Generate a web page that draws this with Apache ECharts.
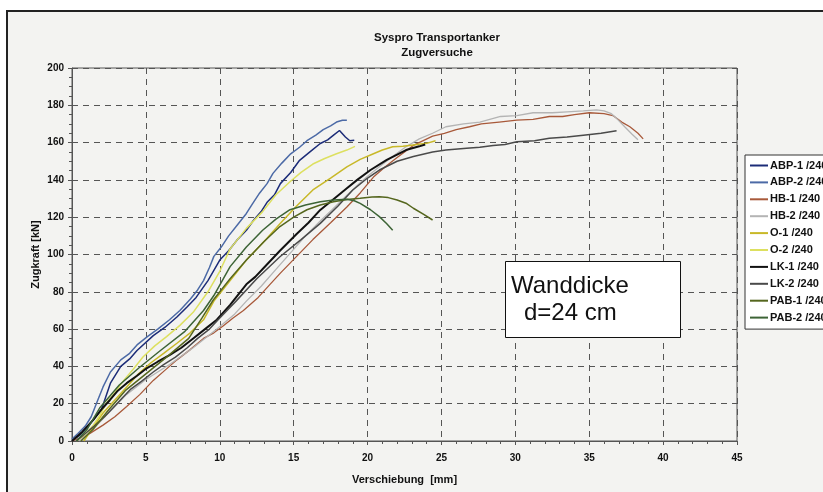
<!DOCTYPE html>
<html>
<head>
<meta charset="utf-8">
<script src="https://cdn.jsdelivr.net/npm/echarts@6/dist/echarts.min.js"></script>
<style>
  html, body { margin: 0; padding: 0; background: #fff; }
  #frame { position: absolute; left: 6px; top: 10px; width: 830px; height: 490px;
           border-top: 2px solid #222; border-left: 2px solid #222; background: #f3f3f1; }
  #main { position: absolute; left: 0; top: 0; width: 823px; height: 492px; }
</style>
</head>
<body>
<div id="frame"></div>
<div id="main"></div>
<script>
var seriesNames = ['ABP-1 /240','ABP-2 /240','HB-1 /240','HB-2 /240','O-1 /240','O-2 /240','LK-1 /240','LK-2 /240','PAB-1 /240','PAB-2 /240'];

var abp1 = [[0,0],[0.5,3],[1.2,9],[2.0,17],[2.6,31],[3.3,40],[3.9,44],[4.4,48.5],[5.5,56.5],[6.3,61],[7.1,66.5],[7.8,72],[8.4,77],[9.2,86],[10.0,97],[10.6,102],[11.2,108],[11.8,113],[12.3,118.5],[12.8,123],[13.2,128],[13.7,132],[14.1,138],[14.8,144],[15.4,150.5],[16.1,155],[16.8,159.5],[17.3,161.5],[17.7,164],[18.1,166.5],[18.5,163],[18.8,161],[19.1,161.3]];
var abp2 = [[0,1],[0.4,4],[0.9,8],[1.3,13],[1.7,21],[2.1,29],[2.6,37],[3.3,43.5],[3.9,47],[4.4,51.5],[5.1,56],[5.8,60],[6.6,65],[7.3,70],[8.0,76],[8.5,81],[8.9,86],[9.3,93],[9.6,99],[10.1,104],[10.6,110],[11.2,116],[11.8,122],[12.2,127],[12.7,133],[13.2,138],[13.6,143.5],[14.2,149],[14.8,154],[15.4,157.5],[15.9,161],[16.5,164],[17.0,167],[17.5,169],[17.9,171],[18.3,172],[18.6,172]];
var hb1 = [[0,0],[1.0,3],[2.1,8.5],[2.9,13],[3.7,18.5],[4.6,25],[5.5,32.5],[6.3,38],[7.1,43.5],[8.0,49],[8.9,55],[9.6,58],[10.2,61.5],[10.9,66],[11.6,70],[12.6,77],[13.4,84],[14.1,90],[15.2,99],[16.3,108],[17.5,117],[18.6,125.5],[19.5,133],[20.4,141.5],[21.2,147],[22.0,152],[23.1,158.5],[24.4,163.5],[25.2,165],[26.0,167],[26.9,168.5],[27.7,170],[28.9,171],[30.1,172],[31.2,172.5],[32.3,174],[33.2,174],[34.0,175],[35.0,176],[36.0,175.5],[36.6,174.5],[37.2,171],[37.75,168.5],[38.3,165],[38.65,162]];
var hb2 = [[0.5,0],[1.5,7],[2.6,16],[3.7,25],[5.0,33],[6.6,41],[8.2,50],[9.8,60],[11.0,68],[11.8,75],[12.8,83],[13.8,92],[14.8,101],[15.8,110],[16.8,118],[17.6,124],[18.5,131],[19.3,137],[20.0,142],[20.8,147],[21.6,152],[22.6,157.8],[23.5,162],[24.4,165],[25.3,168.5],[26.5,170],[27.6,171],[29.0,174],[30.1,174.5],[31.2,176],[32.5,176],[33.5,176.5],[34.6,177],[35.5,177.5],[36.0,177],[36.5,175.5],[36.85,173],[37.4,168.5],[37.9,164.5],[38.3,161.5]];
var o1 = [[0.8,0],[1.4,7],[2.1,15],[2.9,22],[3.7,29],[4.5,36],[5.3,41.7],[6.2,47],[7.1,52.4],[8.0,58],[8.9,65],[9.6,75],[10.7,86],[11.8,97],[13.0,107],[14.1,116.7],[15.2,126],[16.3,134.6],[17.5,141],[18.6,147],[19.5,151],[20.4,154],[21.0,156],[21.7,157.8],[22.4,158],[23.1,158.7],[24.0,159.6],[24.6,161]];
var o2 = [[0.3,0],[0.8,3],[1.4,8],[1.9,14],[2.3,20],[2.9,26],[3.5,32.5],[4.2,39],[4.8,45],[5.6,51],[6.4,56],[7.3,62],[8.2,69],[9.2,80],[10.0,91],[10.7,103],[11.8,114],[12.9,123],[13.8,132],[14.75,139],[15.5,144],[16.3,148.5],[17.1,151.5],[17.9,154],[18.6,156],[19.15,158]];
var lk1 = [[0,0],[0.7,5],[1.44,11.3],[2.0,17],[2.57,22],[3.1,27],[3.7,31],[4.4,35],[5.05,39],[5.8,42.5],[6.6,46],[7.4,50],[8.2,55],[9.0,60],[9.8,65],[10.7,73],[11.8,84],[12.4,88],[13.0,93],[14.07,102],[15.2,111],[16.0,117],[16.8,123.9],[17.9,131],[18.6,135.5],[19.3,140],[20.2,145.3],[21.3,150.7],[22.0,153.5],[22.6,156],[23.5,158],[23.9,159]];
var lk2 = [[0.3,0],[0.9,4],[1.5,8],[2.2,13],[2.8,18],[3.4,23],[4.0,28],[4.7,32],[5.5,37],[6.2,41],[7.0,45],[7.8,50],[8.5,55],[9.3,60],[10.0,66],[11.1,75],[12.5,87],[14.07,98.8],[15.5,108],[16.8,116.7],[18.0,126],[19.0,134.6],[20.0,141],[20.8,145.3],[22.0,150],[23.1,152.5],[24.4,155],[25.3,156],[26.7,157],[27.6,157.5],[28.5,158.5],[29.3,159],[30.1,160.5],[31.3,161],[32.3,162.3],[33.5,163],[34.6,164],[35.8,165],[36.85,166.3]];
var pab1 = [[0.6,0],[1.4,6],[2.4,16],[3.6,27],[5.0,36],[6.4,45],[7.9,55],[8.8,66],[9.56,75.6],[10.7,87],[11.8,97],[13.0,107],[14.07,115],[15.0,120],[15.9,124],[16.8,126.5],[17.7,128.3],[18.6,129.5],[19.5,130.1],[20.3,130.8],[20.8,131],[21.4,130.5],[22.0,129.2],[22.6,127.5],[23.1,124.8],[23.8,121.5],[24.4,118.5]];
var pab2 = [[0.3,0],[1.0,6],[1.9,18],[3.2,30],[4.5,39],[5.9,48],[7.6,58.5],[8.9,70],[9.6,78],[10.7,93.5],[11.8,104],[12.9,113],[13.8,119],[14.75,124],[15.8,126.5],[16.8,128.3],[17.7,129.2],[18.6,129.6],[19.1,128.8],[19.5,127.4],[20.2,124],[20.8,120.3],[21.3,116.5],[21.7,113]];

var seriesData = [abp1, abp2, hb1, hb2, o1, o2, lk1, lk2, pab1, pab2];
var seriesColors = ['#1c2c78','#4c6aa6','#a8593a','#b4b4b4','#c8b828','#dde060','#111111','#4a4a4a','#55661e','#3d6436'];
var seriesWidths = [1.5,1.5,1.3,1.3,1.5,1.5,2,1.5,1.5,1.5];

var xTicks = [0,5,10,15,20,25,30,35,40,45];
var yTicks = [0,20,40,60,80,100,120,140,160,180,200];

var FONT = '"Liberation Sans", Arial, sans-serif';
var chart = echarts.init(document.getElementById('main'));

var series = [];
for (var i = 0; i < seriesNames.length; i++) {
    series.push({
        name: seriesNames[i],
        type: 'line',
        data: seriesData[i],
        symbol: 'none',
        smooth: false,
        lineStyle: { color: seriesColors[i], width: seriesWidths[i] },
        itemStyle: { color: seriesColors[i] }
    });
}

chart.setOption({
    backgroundColor: 'transparent',
    animation: false,
    textStyle: { fontFamily: FONT },
    title: {
        text: 'Syspro Transportanker\nZugversuche',
        left: 432, top: 25, textAlign: 'center',
        textStyle: { fontSize: 11.5, fontWeight: 'bold', color: '#111', lineHeight: 15, fontFamily: FONT }
    },
    grid: { left: 72, right: 86, top: 68, bottom: 51, show: true, borderColor: '#555', borderWidth: 1 },
    legend: {
        data: seriesNames,
        orient: 'vertical',
        left: 745, top: 155,
        backgroundColor: '#fff',
        borderColor: '#333', borderWidth: 1,
        padding: [5, 10, 6, 4],
        itemWidth: 18, itemHeight: 10, itemGap: 5.9,
        itemStyle: { opacity: 0, borderWidth: 0 },
        textStyle: { fontSize: 11, fontWeight: 'bold', color: '#111', fontFamily: FONT, padding: [0, 0, 0, -3] }
    },
    xAxis: {
        type: 'value', min: xTicks[0], max: xTicks[xTicks.length - 1], interval: 5,
        name: 'Verschiebung  [mm]', nameLocation: 'middle', nameGap: 33,
        nameTextStyle: { fontSize: 11, fontWeight: 'bold', color: '#111', fontFamily: FONT },
        axisLine: { lineStyle: { color: '#555' } },
        axisTick: { show: true, inside: false, length: 4, lineStyle: { color: '#555' } },
        minorTick: { show: true, splitNumber: 5, length: 3, lineStyle: { color: '#555' } },
        axisLabel: { fontSize: 10, fontWeight: 'bold', color: '#111', margin: 12, fontFamily: FONT },
        splitLine: { show: true, lineStyle: { color: '#555', type: [6, 5], width: 1 } }
    },
    yAxis: {
        type: 'value', min: yTicks[0], max: yTicks[yTicks.length - 1], interval: 20,
        name: 'Zugkraft [kN]', nameLocation: 'middle', nameGap: 31, nameMoveOverlap: false,
        nameTextStyle: { fontSize: 11, fontWeight: 'bold', color: '#111', fontFamily: FONT },
        axisLine: { show: true, lineStyle: { color: '#555' } },
        axisTick: { show: true, inside: false, length: 4, lineStyle: { color: '#555' } },
        minorTick: { show: true, splitNumber: 4, length: 3, lineStyle: { color: '#555' } },
        axisLabel: { fontSize: 10, fontWeight: 'bold', color: '#111', margin: 8, fontFamily: FONT },
        splitLine: { show: true, lineStyle: { color: '#555', type: [6, 5], width: 1 } }
    },
    graphic: [
        { type: 'rect', left: 505, top: 261, z: 100,
          shape: { width: 175, height: 76 },
          style: { fill: '#fff', stroke: '#111', lineWidth: 1 } },
        { type: 'text', x: 511, y: 286, z: 101,
          style: { text: 'Wanddicke', fontSize: 24, fill: '#111', fontFamily: FONT, verticalAlign: 'middle' } },
        { type: 'text', x: 524, y: 313, z: 101,
          style: { text: 'd=24 cm', fontSize: 24, fill: '#111', fontFamily: FONT, verticalAlign: 'middle' } }
    ],
    series: series
});
</script>
</body>
</html>
